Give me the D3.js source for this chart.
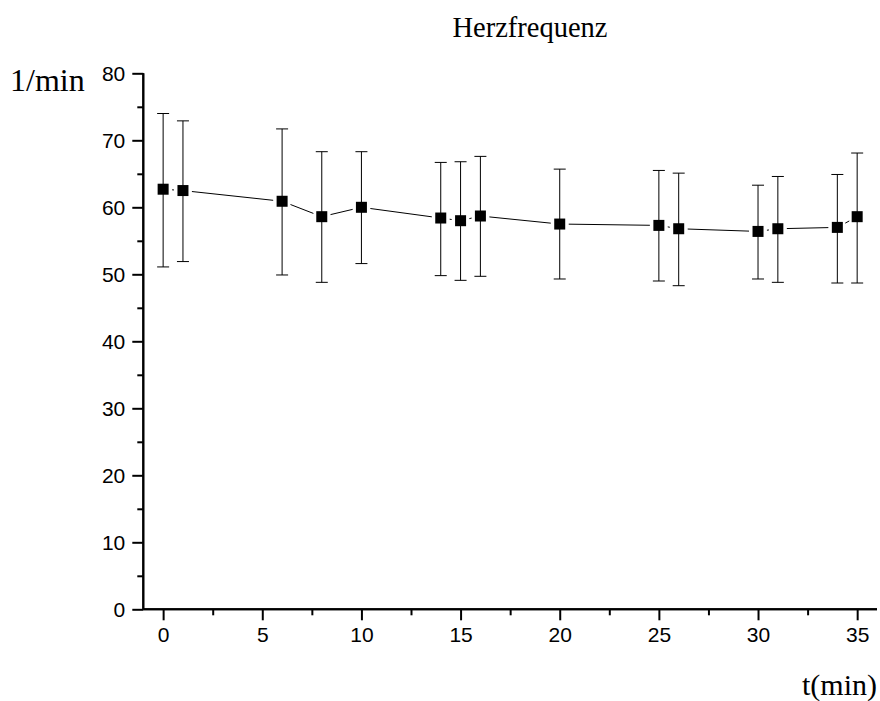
<!DOCTYPE html>
<html>
<head>
<meta charset="utf-8">
<script src="https://cdn.jsdelivr.net/npm/d3@7"></script>
<style>
  body { margin: 0; background: #fff; }
  svg { display: block; }
</style>
</head>
<body>
<div id="chart"></div>
<script>
// time points (min)
const times = [0, 1, 6, 8, 10, 14, 15, 16, 20, 25, 26, 30, 31, 34, 35];
// mean heart rate (1/min)
const rate = [62.7, 62.5, 60.9, 58.6, 60.0, 58.4, 58.0, 58.7, 57.5, 57.3, 56.8, 56.4, 56.8, 57.0, 58.6];
// error bar ends
const rateHigh = [74.0, 72.9, 71.7, 68.3, 68.3, 66.7, 66.8, 67.6, 65.7, 65.5, 65.1, 63.3, 64.6, 64.9, 68.1];
const rateLow = [51.1, 51.9, 49.9, 48.8, 51.6, 49.8, 49.1, 49.7, 49.3, 49.0, 48.3, 49.3, 48.8, 48.7, 48.7];

const xTicks = [0, 5, 10, 15, 20, 25, 30, 35];
const xMinor = [2.5, 7.5, 12.5, 17.5, 22.5, 27.5, 32.5];
const yTicks = [0, 10, 20, 30, 40, 50, 60, 70, 80];
const yMinor = [5, 15, 25, 35, 45, 55, 65, 75];

const W = 880, H = 701;
const svg = d3.select("#chart").append("svg")
    .attr("width", W)
    .attr("height", H);

const x = d3.scaleLinear().domain([-1, 36]).range([143.3, 877]);
const y = d3.scaleLinear().domain([0, 80]).range([609.3, 73.3]);

const tickFont = "'Liberation Sans', Arial, sans-serif";
const serif = "'Liberation Serif', 'Times New Roman', serif";

// axes
const xAxis = svg.append("g")
    .attr("transform", `translate(0,${y(0)})`)
    .call(d3.axisBottom(x).tickValues(xTicks).tickSize(11).tickPadding(7).tickFormat(d3.format("d")));
xAxis.append("g")
    .call(d3.axisBottom(x).tickValues(xMinor).tickSize(6).tickFormat(""));

const yAxis = svg.append("g")
    .attr("transform", `translate(${x(-1)},0)`)
    .call(d3.axisLeft(y).tickValues(yTicks).tickSize(11).tickPadding(7).tickFormat(d3.format("d")));
yAxis.append("g")
    .call(d3.axisLeft(y).tickValues(yMinor).tickSize(6).tickFormat(""));

svg.selectAll(".domain").attr("stroke", "#000").attr("stroke-width", 2);
svg.selectAll(".tick line").attr("stroke", "#000").attr("stroke-width", 2);
svg.selectAll(".tick text")
    .attr("fill", "#000")
    .style("font-family", tickFont)
    .style("font-size", "21px");
// plain domain lines, no outer ticks
xAxis.selectAll(".domain").attr("d", `M${x(-1)},0H${x(36)}`);
yAxis.selectAll(".domain").attr("d", `M0,${y(80)}V${y(0)}`);
xAxis.select("g").selectAll(".domain").remove();
yAxis.select("g").selectAll(".domain").remove();

const pts = times.map((t, i) => ({ t, v: rate[i], lo: rateLow[i], hi: rateHigh[i] }));

// connecting line, drawn as segments with a small gap at each marker
const gap = 9;
const segs = d3.pairs(pts).map(([a, b]) => {
    const x1 = x(a.t), y1 = y(a.v), x2 = x(b.t), y2 = y(b.v);
    const len = Math.hypot(x2 - x1, y2 - y1);
    const ux = (x2 - x1) / len, uy = (y2 - y1) / len;
    return { x1: x1 + ux * gap, y1: y1 + uy * gap, x2: x2 - ux * gap, y2: y2 - uy * gap, ok: len > 2 * gap };
});
svg.append("g")
    .selectAll("line")
    .data(segs.filter(s => s.ok))
    .join("line")
    .attr("x1", d => d.x1).attr("y1", d => d.y1)
    .attr("x2", d => d.x2).attr("y2", d => d.y2)
    .attr("stroke", "#000")
    .attr("stroke-width", 1);

// error bars
const capW = 6;
const eb = svg.append("g").attr("stroke", "#000").attr("stroke-width", 1);
eb.selectAll(".stem")
    .data(pts)
    .join("line")
    .attr("class", "stem")
    .attr("x1", d => x(d.t)).attr("x2", d => x(d.t))
    .attr("y1", d => y(d.hi)).attr("y2", d => y(d.lo));
eb.selectAll(".caphi")
    .data(pts)
    .join("line")
    .attr("class", "caphi")
    .attr("x1", d => x(d.t) - capW).attr("x2", d => x(d.t) + capW)
    .attr("y1", d => y(d.hi)).attr("y2", d => y(d.hi));
eb.selectAll(".caplo")
    .data(pts)
    .join("line")
    .attr("class", "caplo")
    .attr("x1", d => x(d.t) - capW).attr("x2", d => x(d.t) + capW)
    .attr("y1", d => y(d.lo)).attr("y2", d => y(d.lo));

// square markers
const ms = 11;
svg.append("g")
    .selectAll("rect")
    .data(pts)
    .join("rect")
    .attr("x", d => x(d.t) - ms / 2)
    .attr("y", d => y(d.v) - ms / 2)
    .attr("width", ms)
    .attr("height", ms)
    .attr("fill", "#000");

// titles
svg.append("text")
    .attr("x", 530).attr("y", 37)
    .attr("text-anchor", "middle")
    .style("font-family", serif)
    .style("font-size", "28.5px")
    .text("Herzfrequenz");

svg.append("text")
    .attr("x", 10).attr("y", 91)
    .style("font-family", serif)
    .style("font-size", "32px")
    .text("1/min");

svg.append("text")
    .attr("x", 877).attr("y", 695)
    .attr("text-anchor", "end")
    .style("font-family", serif)
    .style("font-size", "30px")
    .text("t(min)");
</script>
</body>
</html>
